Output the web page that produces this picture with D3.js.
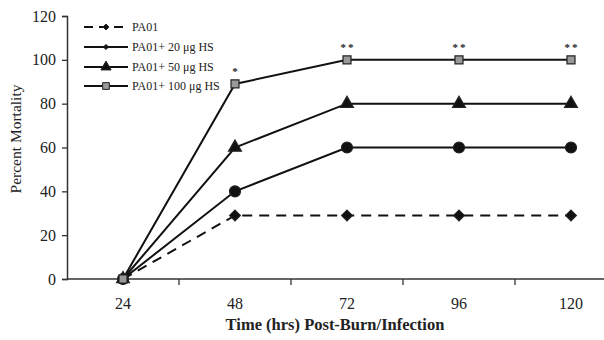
<!DOCTYPE html>
<html><head><meta charset="utf-8">
<script src="https://cdn.jsdelivr.net/npm/d3@7"></script>
<style>body{margin:0;background:#fff}svg{display:block}text{font-family:"Liberation Serif","DejaVu Serif",serif;fill:#222}</style>
</head><body><svg id="c" width="604" height="340"></svg>
<script>
const hours = ["24","48","72","96","120"];
const yTicks = [0,20,40,60,80,100,120];
const seriesNames = ["PA01","PA01+ 20 \u03bcg HS","PA01+ 50 \u03bcg HS","PA01+ 100 \u03bcg HS"];
const pa01 = [0,29,29,29,29];
const hs20 = [0,40,60,60,60];
const hs50 = [0,60,80,80,80];
const hs100 = [0,89,100,100,100];
const sigMarks = ["", "*", "**", "**", "**"];

const svg = d3.select("#c");
const m = {l:67, r:0, t:16, b:61};
const W = 604, H = 340;
const x = d3.scaleBand().domain(hours).range([m.l, m.l + 112*5]);
const y = d3.scaleLinear().domain([0,120]).range([H-m.b, m.t]);
const cx = d => x(d) + x.bandwidth()/2;

// axes
const yAx = svg.append("g").attr("transform",`translate(${m.l},0)`)
  .call(d3.axisLeft(y).tickValues(yTicks).tickSize(5).tickPadding(6));
yAx.select(".domain").attr("stroke","#333").attr("stroke-width",1.5);
yAx.selectAll(".tick line").attr("stroke","#333").attr("stroke-width",1.3);
yAx.selectAll(".tick text").style("font-size","16px");

svg.append("line").attr("x1",m.l).attr("x2",W).attr("y1",y(0)).attr("y2",y(0)).attr("stroke","#333").attr("stroke-width",1.5);
svg.selectAll(".xt").data(hours.slice(1)).enter().append("line")
  .attr("x1",d=>x(d)).attr("x2",d=>x(d)).attr("y1",y(0)).attr("y2",y(0)+6).attr("stroke","#333").attr("stroke-width",1.3);
svg.selectAll(".xl").data(hours).enter().append("text")
  .attr("x",d=>cx(d)).attr("y",y(0)+30).attr("text-anchor","middle").style("font-size","16px").text(d=>d);

svg.append("text").attr("x",335).attr("y",330).attr("text-anchor","middle")
  .style("font-size","16.5px").style("font-weight","bold").text("Time (hrs) Post-Burn/Infection");
svg.append("text").attr("transform","translate(21,139) rotate(-90)").attr("text-anchor","middle")
  .style("font-size","15.5px").text("Percent Mortality");

const diamond = {draw(ctx, size){const r=Math.sqrt(size)/2*1.1; ctx.moveTo(0,-r); ctx.lineTo(r,0); ctx.lineTo(0,r); ctx.lineTo(-r,0); ctx.closePath();}};
const series = [
  {name:seriesNames[0], vals:pa01, dash:"10,7", sym:diamond, size:95, fill:"#111"},
  {name:seriesNames[1], vals:hs20, dash:null, sym:d3.symbolCircle, size:95, fill:"#111"},
  {name:seriesNames[2], vals:hs50, dash:null, sym:d3.symbolTriangle, size:72, fill:"#111"},
  {name:seriesNames[3], vals:hs100, dash:null, sym:d3.symbolSquare, size:64, fill:"#999"}
];
const line = d3.line().x((d,i)=>cx(hours[i])).y(d=>y(d));
series.forEach(s=>{
  svg.append("path").attr("d",line(s.vals)).attr("fill","none").attr("stroke","#111")
    .attr("stroke-width",2).attr("stroke-dasharray",s.dash);
});
series.forEach(s=>{
  svg.selectAll(null).data(s.vals).enter().append("path")
    .attr("d",d3.symbol().type(s.sym).size(s.size))
    .attr("transform",(d,i)=>`translate(${cx(hours[i])},${y(d)})`)
    .attr("fill",s.fill).attr("stroke","#222").attr("stroke-width",1.2);
});
// significance marks
svg.selectAll(".sig").data(sigMarks).enter().append("text")
  .attr("x",(d,i)=>cx(hours[i])).attr("y",(d,i)=>y(hs100[i])-9).attr("text-anchor","middle")
  .style("font-size","11px").style("font-weight","bold").text(d=>d.split("").join("\u2009"));

// legend
const lg = svg.append("g");
const lgY = [27,47,67,86];
series.forEach((s,i)=>{
  lg.append("line").attr("x1",84).attr("x2",128).attr("y1",lgY[i]).attr("y2",lgY[i])
    .attr("stroke","#111").attr("stroke-width",2).attr("stroke-dasharray",i===0?"9,6":null);
  lg.append("path").attr("d",d3.symbol().type(i<=1?diamond:s.sym).size(i===1?22:(i===0?30:45)))
    .attr("transform",`translate(106,${lgY[i]})`).attr("fill",s.fill).attr("stroke","#222").attr("stroke-width",1);
  lg.append("text").attr("x",132).attr("y",lgY[i]+4).style("font-size","12px").text(s.name);
});
</script></body></html>
